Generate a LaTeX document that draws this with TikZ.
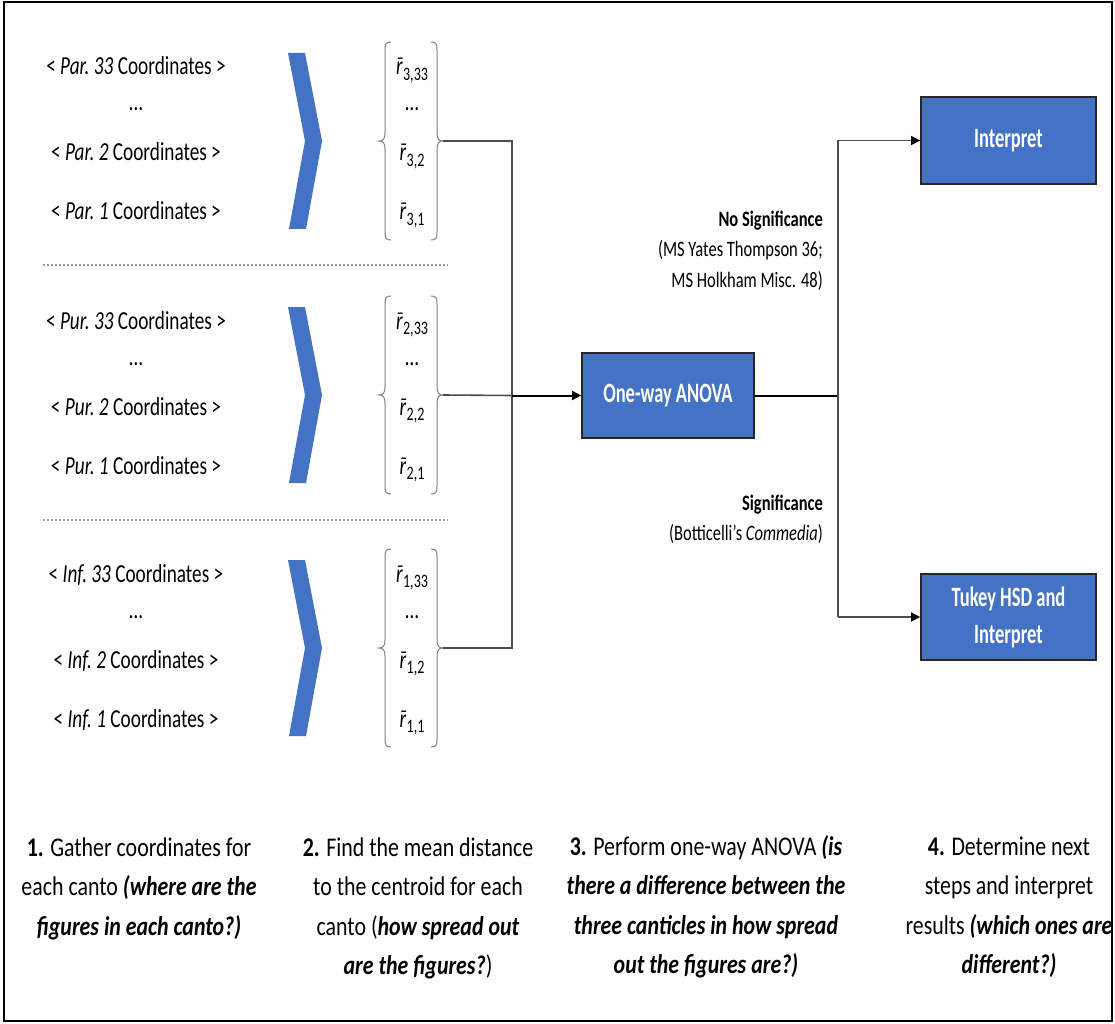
\documentclass[tikz,border=0pt]{standalone}
\usepackage{fontspec}
\setmainfont[FakeStretch=0.74]{Carlito}
\newfontfamily\boxfont[FakeStretch=0.66]{Carlito}
\newfontfamily\botfont[FakeStretch=0.81]{Carlito}
\newfontfamily\labfont[FakeStretch=0.75]{Carlito}
\usetikzlibrary{arrows.meta}
\definecolor{boxblue}{HTML}{4472C4}
\definecolor{linegray}{HTML}{7F7F7F}
\definecolor{conngray}{HTML}{4D4D4D}
\newcommand{\rbarv}[1]{{\itshape\accent"00AF r}\kern0.5pt\raisebox{-5.5pt}{\fontsize{19}{20}\selectfont #1}}
\tikzset{
  rowtxt/.style={anchor=base, inner sep=0pt, font=\fontsize{26}{31}\selectfont},
  chev/.style={fill=boxblue},
  brc/.style={draw=linegray, line width=1pt},
  sepline/.style={draw=black!40, line width=1.2pt, dash pattern=on 2pt off 2pt},
  bluebox/.style={draw=black!85, line width=1.8pt, fill=boxblue, text=white, align=center,
    inner sep=0pt, font=\boxfont\fontsize{28}{37}\selectfont\bfseries},
  conn/.style={draw=black, line width=2pt},
  gconn/.style={draw=conngray, line width=1.6pt},
  arr/.style={-{Triangle[length=9pt,width=9pt,color=black]}},
  lab/.style={inner sep=0pt, font=\labfont\fontsize{22}{30.5}\selectfont},
  bot/.style={anchor=base, inner sep=0pt, font=\botfont\fontsize{27}{39.5}\selectfont}
}
\begin{document}
\begin{tikzpicture}[x=1pt,y=-1pt]
\useasboundingbox (0,0) rectangle (1115,1024);
\fill[white] (0,0) rectangle (1115,1024);
\draw[black, line width=2pt] (3.5,2.5) rectangle (1112,1020.5);

\foreach \g/\o/\ab in {3/0/Par., 2/254/Pur., 1/507/Inf.}{
  \begin{scope}[shift={(0,\o)}]
    \node[rowtxt] (c\g a) at (136,75) {< \textit{\ab\ 33} Coordinates >};
    \node[rowtxt] (c\g d) at (136,111) {…};
    \node[rowtxt] (c\g b) at (136,161) {< \textit{\ab\ 2} Coordinates >};
    \node[rowtxt] (c\g c) at (136,220) {< \textit{\ab\ 1} Coordinates >};
    \fill[chev] (288,53) -- (305,53) -- (322,141) -- (306,229) -- (289,229) -- (305,141) -- cycle;
    \node[rowtxt] (v\g a) at (412,75) {\rbarv{\g,33}};
    \node[rowtxt] (v\g d) at (412,111) {…};
    \node[rowtxt] (v\g b) at (412,161) {\rbarv{\g,2}};
    \node[rowtxt] (v\g c) at (412,220) {\rbarv{\g,1}};
    \draw[brc] (391,42) .. controls (386,42) and (385,44) .. (385,50) -- (385,133)
      .. controls (385,139) and (383,141) .. (379,141)
      .. controls (383,141) and (385,143) .. (385,149) -- (385,232)
      .. controls (385,238) and (386,240) .. (391,240);
    \draw[brc] (431,42) .. controls (436,42) and (437,44) .. (437,50) -- (437,133)
      .. controls (437,139) and (439,141) .. (443,141)
      .. controls (439,141) and (437,143) .. (437,149) -- (437,232)
      .. controls (437,238) and (436,240) .. (431,240);
    \coordinate (bp\g) at (443,141);
  \end{scope}
}

\draw[sepline] (43,265) -- (448,265);
\draw[sepline] (43,520) -- (448,520);

% boxes
\node[bluebox, minimum width=172pt, minimum height=85pt] (anova) at (668,395.5) {One-way ANOVA};
\node[bluebox, minimum width=175pt, minimum height=87pt] (interp) at (1008.5,140.5) {Interpret};
\node[bluebox, minimum width=175pt, minimum height=86pt] (tukey) at (1008.5,617) {Tukey HSD and\\Interpret};

% left connectors
\coordinate (j3) at (512,141);
\coordinate (j1) at (512,648);
\coordinate (jm) at (512,395.5);
\draw[gconn] (bp3) -- (j3) -- (j1) -- (bp1);
\draw[gconn] (bp2) -- (jm);
\draw[conn, arr] (jm) -- (anova.west);

% right connectors
\coordinate (k) at (838,395.5);
\coordinate (ktop) at (k |- interp.west);
\coordinate (kbot) at (k |- tukey.west);
\draw[conn] (anova.east) -- (k);
\draw[gconn] (ktop) -- (kbot);
\draw[gconn, arr] (ktop) -- (interp.west);
\draw[gconn, arr] (kbot) -- (tukey.west);

% labels
\node[lab, anchor=base east] (nosig) at (823,226) {\begin{tabular}[t]{@{}r@{}}\textbf{No Significance}\\(MS Yates Thompson 36;\\MS Holkham Misc. 48)\end{tabular}};
\node[lab, anchor=base east] (sig) at (823,510) {\begin{tabular}[t]{@{}r@{}}\textbf{Significance}\\(Botticelli’s \textit{Commedia})\end{tabular}};

% bottom steps
\node[bot] (s1) at (139,856) {\begin{tabular}[t]{@{}c@{}}\textbf{1.} Gather coordinates for\\each canto \textbf{\textit{(where are the}}\\\textbf{\textit{figures in each canto?)}}\end{tabular}};
\node[bot] (s2) at (418,856) {\begin{tabular}[t]{@{}c@{}}\textbf{2.} Find the mean distance\\to the centroid for each\\canto (\textbf{\textit{how spread out}}\\\textbf{\textit{are the figures?}})\end{tabular}};
\node[bot] (s3) at (706,855) {\begin{tabular}[t]{@{}c@{}}\textbf{3.} Perform one-way ANOVA \textbf{\textit{(is}}\\\textbf{\textit{there a difference between the}}\\\textbf{\textit{three canticles in how spread}}\\\textbf{\textit{out the figures are?)}}\end{tabular}};
\node[bot] (s4) at (1009,855) {\begin{tabular}[t]{@{}c@{}}\textbf{4.} Determine next\\steps and interpret\\results \textbf{\textit{(which ones are}}\\\textbf{\textit{different?)}}\end{tabular}};
\end{tikzpicture}
\end{document}
